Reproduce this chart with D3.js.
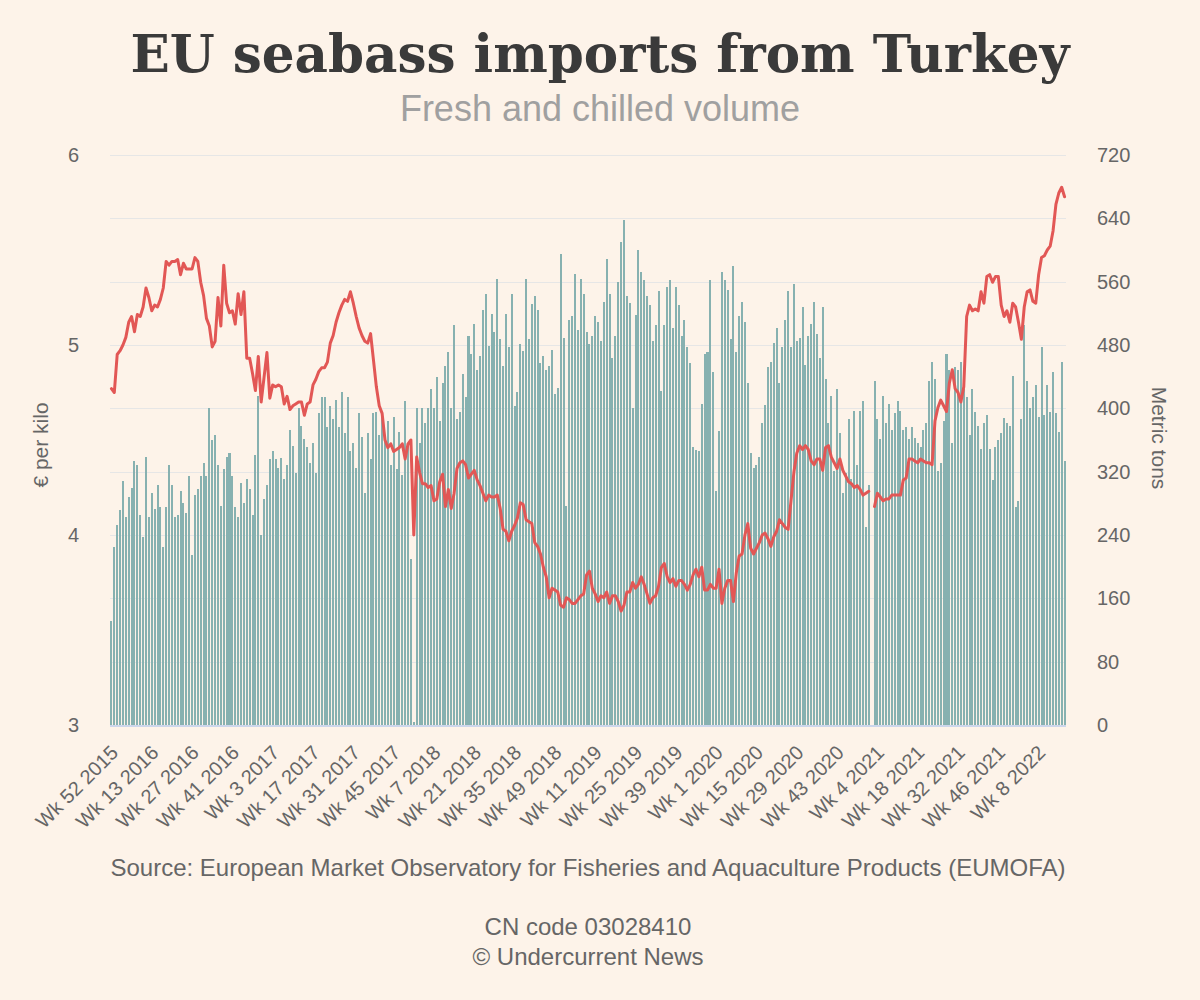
<!DOCTYPE html>
<html>
<head>
<meta charset="utf-8">
<script src="https://cdn.jsdelivr.net/npm/d3@7"></script>
<style>
  html, body { margin: 0; padding: 0; background: #fdf3e9; }
</style>
</head>
<body>
<div id="chart"></div>
<script>

// weekly series, first point is Wk 52 2015
const startWeek = 52;
const startYear = 2015;
const yearWeeks = { 2015: 53, 2016: 52, 2017: 52, 2018: 52, 2019: 52, 2020: 53, 2021: 52, 2022: 52 };
const tickEvery = 14;

// metric tons per week
const volumeTons = [
  132,225,253,271,308,263,288,300,333,328,265,238,338,263,293,273,303,275,225,275,328,303,263,265,296,280,268,315,215,290,298,314,331,315,401,360,366,328,277,323,338,344,
  314,275,263,306,280,311,298,265,341,416,240,286,303,336,346,336,325,337,311,329,373,353,318,401,378,361,351,331,356,318,394,414,414,377,403,386,411,377,421,369,414,346,356,
  325,394,364,293,369,336,394,395,366,395,366,384,329,389,323,370,316,409,356,210,4,401,356,401,381,401,424,401,439,384,432,453,471,401,505,386,396,444,414,492,469,507,449,
  466,524,544,479,519,496,564,487,453,519,477,544,403,421,481,472,564,487,532,542,524,457,466,449,453,474,418,426,595,489,277,512,517,570,499,564,544,496,481,492,517,509,485,534,
  589,545,464,492,560,610,638,542,533,401,518,600,572,562,542,530,485,505,548,422,505,553,562,502,553,530,492,512,477,457,351,348,346,406,469,471,562,446,296,371,572,562,550,
  487,580,471,517,534,509,432,343,325,328,338,381,404,452,459,482,502,432,477,512,548,477,557,485,489,528,455,492,507,534,494,464,528,437,381,416,321,424,369,293,318,386,311,
  397,328,397,409,250,303,null,434,386,361,416,381,406,373,394,409,397,373,376,361,376,363,356,351,373,381,434,459,437,321,331,384,469,449,356,452,449,459,424,414,366,424,396,
  378,349,381,391,349,310,351,360,369,388,381,378,441,275,283,386,505,434,401,414,429,389,477,391,429,396,446,394,370,459,333
];

// euro per kilo
const priceEur = [
  4.77,4.75,4.95,4.97,5.00,5.04,5.12,5.15,5.07,5.16,5.15,5.20,5.30,5.25,5.18,5.21,5.20,5.24,5.30,5.44,5.42,5.44,5.44,5.45,5.37,5.43,5.40,5.40,5.40,5.46,5.44,5.33,5.26,5.14,5.10,4.99,5.02,5.25,5.10,5.42,5.22,5.17,
  5.18,5.11,5.27,5.16,5.28,4.93,4.93,4.85,4.76,4.94,4.70,4.83,4.96,4.72,4.79,4.78,4.79,4.78,4.69,4.73,4.66,4.68,4.69,4.70,4.70,4.63,4.69,4.70,4.79,4.82,4.86,4.88,4.88,4.91,5.01,5.05,5.12,5.17,5.21,5.24,5.23,5.28,5.22,
  5.15,5.09,5.05,5.02,5.01,5.06,4.92,4.78,4.68,4.64,4.50,4.46,4.48,4.44,4.45,4.46,4.48,4.40,4.48,4.50,4.00,4.41,4.33,4.27,4.27,4.25,4.26,4.18,4.19,4.28,4.32,4.15,4.24,4.14,4.22,4.35,4.38,4.39,4.37,4.30,4.32,4.34,4.29,
  4.26,4.22,4.18,4.21,4.20,4.20,4.21,4.14,4.03,4.02,3.97,4.02,4.05,4.09,4.17,4.16,4.08,4.07,4.06,3.96,3.94,3.90,3.83,3.78,3.67,3.72,3.71,3.70,3.63,3.62,3.67,3.66,3.64,3.64,3.66,3.68,3.69,3.79,3.81,3.72,3.69,3.65,3.68,3.67,
  3.70,3.64,3.68,3.68,3.65,3.60,3.63,3.70,3.70,3.75,3.72,3.74,3.78,3.74,3.69,3.64,3.67,3.68,3.73,3.83,3.85,3.78,3.75,3.77,3.73,3.76,3.76,3.74,3.71,3.74,3.79,3.82,3.78,3.83,3.71,3.71,3.74,3.72,3.72,3.82,3.64,3.72,3.76,
  3.76,3.65,3.80,3.89,3.90,4.00,4.06,3.93,3.90,3.93,3.96,4.00,4.01,3.98,3.94,3.99,4.02,4.08,4.06,4.04,4.03,4.18,4.33,4.43,4.47,4.45,4.47,4.45,4.39,4.37,4.40,4.40,4.34,4.46,4.47,4.41,4.38,4.35,4.40,4.34,4.31,4.28,4.27,
  4.25,4.26,4.24,4.21,4.22,4.23,null,4.15,4.22,4.20,4.18,4.19,4.19,4.21,4.21,4.21,4.21,4.29,4.30,4.40,4.40,4.39,4.38,4.40,4.39,4.38,4.38,4.37,4.60,4.67,4.71,4.68,4.65,4.80,4.87,4.77,4.75,4.70,4.78,5.15,5.21,5.18,5.19,
  5.18,5.28,5.22,5.36,5.37,5.33,5.36,5.36,5.21,5.15,5.18,5.12,5.22,5.20,5.12,5.03,5.20,5.28,5.29,5.23,5.22,5.37,5.46,5.47,5.50,5.52,5.60,5.74,5.80,5.83,5.78
];

const priceTicks = [3, 4, 5, 6];
const tonTicks = [0, 80, 160, 240, 320, 400, 480, 560, 640, 720];


//--------------------------------------
// LAYOUT
//--------------------------------------

const W = 1200, H = 1000;
const plot = { left: 110, right: 1066, top: 155, bottom: 725 };
const sans = "'Liberation Sans', Arial, Helvetica, sans-serif";
const labelColor = "#666666";

// week names from the start week on
const weeks = [];
let wk = startWeek, yr = startYear;
for (let i = 0; i < volumeTons.length; i++) {
  weeks.push("Wk " + wk + " " + yr);
  wk++;
  if (wk > yearWeeks[yr]) { wk = 1; yr++; }
}

const svg = d3.select("#chart").append("svg")
  .attr("width", W)
  .attr("height", H)
  .style("background", "#fdf3e9")
  .style("display", "block");

const x = d3.scaleBand()
  .domain(weeks)
  .range([plot.left, plot.right])
  .paddingInner(0.3)
  .paddingOuter(0.15);

const yPrice = d3.scaleLinear().domain([3, 6]).range([plot.bottom, plot.top]);
const yTons = d3.scaleLinear().domain([0, 720]).range([plot.bottom, plot.top]);


// grid
svg.append("g")
  .selectAll("line")
  .data(tonTicks)
  .enter()
  .append("line")
    .attr("x1", plot.left)
    .attr("x2", plot.right)
    .attr("y1", d => Math.round(yTons(d)) + 0.5)
    .attr("y2", d => Math.round(yTons(d)) + 0.5)
    .attr("stroke", "#e6e6e6")
    .attr("stroke-width", 1);


// columns
svg.append("g")
  .attr("shape-rendering", "crispEdges")
  .selectAll("rect")
  .data(volumeTons.map((v, i) => ({ week: weeks[i], v: v })).filter(d => d.v != null))
  .enter()
  .append("rect")
    .attr("x", d => x(d.week))
    .attr("width", x.bandwidth())
    .attr("y", d => yTons(d.v))
    .attr("height", d => plot.bottom - yTons(d.v))
    .attr("fill", "#87b1b0");


// baseline
svg.append("line")
  .attr("x1", plot.left)
  .attr("x2", plot.right)
  .attr("y1", plot.bottom + 1)
  .attr("y2", plot.bottom + 1)
  .attr("stroke", "#ccd6eb")
  .attr("stroke-width", 2);


// price line
const line = d3.line()
  .defined(d => d != null)
  .x((d, i) => x(weeks[i]) + x.bandwidth() / 2)
  .y(d => yPrice(d));

svg.append("path")
  .datum(priceEur)
  .attr("d", line)
  .attr("fill", "none")
  .attr("stroke", "#e25755")
  .attr("stroke-width", 3)
  .attr("stroke-linejoin", "round")
  .attr("stroke-linecap", "round");


// axes
function styleAxis(g) {
  g.select(".domain").remove();
  g.selectAll("text")
    .attr("fill", labelColor)
    .attr("font-family", sans)
    .attr("font-size", 20);
}

svg.append("g")
  .attr("transform", "translate(" + plot.left + ",0)")
  .call(d3.axisLeft(yPrice).tickValues(priceTicks).tickSize(0).tickPadding(31).tickFormat(d3.format("d")))
  .call(styleAxis);

svg.append("g")
  .attr("transform", "translate(" + plot.right + ",0)")
  .call(d3.axisRight(yTons).tickValues(tonTicks).tickSize(0).tickPadding(31).tickFormat(d3.format("d")))
  .call(styleAxis);

const xAxis = svg.append("g")
  .attr("transform", "translate(0," + plot.bottom + ")")
  .call(d3.axisBottom(x).tickValues(weeks.filter((d, i) => i % tickEvery === 0)).tickSize(0))
  .call(styleAxis);

xAxis.selectAll("text")
  .attr("x", 0)
  .attr("y", 0)
  .attr("dy", 0)
  .attr("text-anchor", "end")
  .attr("transform", "translate(8,29) rotate(-45)");


// axis titles
svg.append("text")
  .attr("transform", "translate(48,445) rotate(-90)")
  .attr("text-anchor", "middle")
  .attr("font-family", sans)
  .attr("font-size", 21)
  .attr("fill", labelColor)
  .text("€ per kilo");

svg.append("text")
  .attr("transform", "translate(1152,438) rotate(90)")
  .attr("text-anchor", "middle")
  .attr("font-family", sans)
  .attr("font-size", 21)
  .attr("fill", labelColor)
  .text("Metric tons");


// titles, fitted to the width they take in the layout
function fitText(sel, width) {
  const size = parseFloat(sel.attr("font-size"));
  const len = sel.node().getComputedTextLength();
  sel.attr("font-size", (size * width / len).toFixed(1));
}

const title = svg.append("text")
  .attr("x", 600)
  .attr("y", 72)
  .attr("text-anchor", "middle")
  .attr("font-family", "'DejaVu Serif', Georgia, serif")
  .attr("font-weight", "bold")
  .attr("font-size", 50)
  .attr("fill", "#3a3a3a")
  .text("EU seabass imports from Turkey");
fitText(title, 940);

const subtitle = svg.append("text")
  .attr("x", 600)
  .attr("y", 121)
  .attr("text-anchor", "middle")
  .attr("font-family", sans)
  .attr("font-size", 32)
  .attr("fill", "#a0a0a0")
  .text("Fresh and chilled volume");
fitText(subtitle, 400);

const source = svg.append("text")
  .attr("x", 588)
  .attr("y", 876)
  .attr("text-anchor", "middle")
  .attr("font-family", sans)
  .attr("font-size", 20)
  .attr("fill", labelColor)
  .text("Source: European Market Observatory for Fisheries and Aquaculture Products (EUMOFA)");
fitText(source, 956);

svg.append("text")
  .attr("x", 588)
  .attr("y", 935)
  .attr("text-anchor", "middle")
  .attr("font-family", sans)
  .attr("font-size", source.attr("font-size"))
  .attr("fill", labelColor)
  .text("CN code 03028410");

svg.append("text")
  .attr("x", 588)
  .attr("y", 965)
  .attr("text-anchor", "middle")
  .attr("font-family", sans)
  .attr("font-size", source.attr("font-size"))
  .attr("fill", labelColor)
  .text("© Undercurrent News");

</script>
</body>
</html>
